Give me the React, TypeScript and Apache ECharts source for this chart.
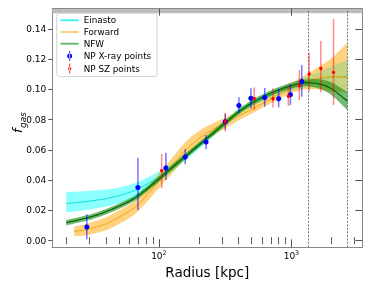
import React, { useEffect, useRef } from "react";
import * as echarts from "echarts";

// ---------- ticks ----------
const xMajorLog = [2, 3];
const xMinorR = [20, 30, 40, 50, 60, 70, 80, 90, 200, 300, 400, 500, 600, 700, 800, 900, 2000, 3000];
const yTickValues = [0, 0.02, 0.04, 0.06, 0.08, 0.1, 0.12, 0.14];

// ---------- Einasto model ----------
const einR = [20, 25, 32, 40, 50, 65, 80, 100, 130, 160, 200, 250, 320, 400, 500, 630, 800, 1000, 1250, 1600, 2000, 2650];
const einF = [0.0245, 0.0253, 0.0265, 0.0278, 0.0297, 0.033, 0.037, 0.0423, 0.0493, 0.0556, 0.0625, 0.0698, 0.0775, 0.085, 0.09, 0.0945, 0.0985, 0.1015, 0.1045, 0.1065, 0.1078, 0.1086];
const einLo = [0.0187, 0.0196, 0.021, 0.0226, 0.0247, 0.0282, 0.0328, 0.0388, 0.0465, 0.0534, 0.0607, 0.0682, 0.076, 0.0835, 0.0884, 0.0927, 0.0965, 0.099, 0.101, 0.1015, 0.1003, 0.0976];
const einHi = [0.0322, 0.0325, 0.0331, 0.0338, 0.0351, 0.0378, 0.0412, 0.0458, 0.0521, 0.0578, 0.0643, 0.0714, 0.079, 0.0865, 0.0916, 0.0963, 0.1005, 0.104, 0.108, 0.1115, 0.1153, 0.1196];

// ---------- NFW model ----------
const nfwR = [20, 25, 32, 40, 50, 65, 80, 100, 130, 160, 200, 250, 320, 400, 500, 630, 800, 1000, 1250, 1600, 2000, 2650];
const nfwF = [0.0119, 0.0138, 0.0162, 0.0192, 0.0228, 0.0278, 0.0337, 0.0408, 0.0494, 0.0561, 0.0632, 0.0703, 0.0782, 0.0852, 0.091, 0.0957, 0.0997, 0.1025, 0.1043, 0.1037, 0.1005, 0.0922];
const nfwLo = [0.0101, 0.012, 0.0144, 0.0174, 0.021, 0.026, 0.0319, 0.039, 0.0476, 0.0543, 0.0614, 0.0685, 0.0764, 0.0834, 0.0892, 0.0939, 0.0979, 0.1005, 0.1021, 0.1007, 0.0963, 0.0862];
const nfwHi = [0.0137, 0.0156, 0.018, 0.021, 0.0246, 0.0296, 0.0355, 0.0426, 0.0512, 0.0579, 0.065, 0.0721, 0.08, 0.087, 0.0928, 0.0975, 0.1015, 0.1045, 0.1065, 0.1067, 0.1047, 0.0982];

// ---------- Forward model ----------
const fwdR = [23, 27, 32, 40, 50, 65, 80, 100, 130, 160, 200, 250, 320, 400, 500, 630, 800, 1000, 1250, 1600, 2000, 2650];
const fwdF = [0.0062, 0.0069, 0.0085, 0.0112, 0.0155, 0.0215, 0.0295, 0.0395, 0.051, 0.06, 0.0675, 0.073, 0.078, 0.0825, 0.0868, 0.0915, 0.0965, 0.101, 0.1045, 0.1075, 0.1085, 0.1078];
const fwdLo = [0.0029, 0.0033, 0.0045, 0.0069, 0.011, 0.017, 0.0249, 0.0347, 0.0458, 0.0545, 0.0625, 0.0688, 0.0745, 0.0795, 0.084, 0.0887, 0.0935, 0.0975, 0.1, 0.1, 0.0985, 0.098];
const fwdHi = [0.0095, 0.0105, 0.0125, 0.0155, 0.02, 0.026, 0.0341, 0.0443, 0.0562, 0.0655, 0.0725, 0.0772, 0.0815, 0.0855, 0.0896, 0.0943, 0.0995, 0.1045, 0.109, 0.115, 0.1205, 0.131];

// ---------- NP X-ray points ----------
const xrayR = [28.6, 69.5, 113, 158, 227, 317, 402, 495, 629, 802, 983, 1197];
const xrayF = [0.009, 0.0351, 0.0481, 0.0553, 0.0653, 0.0787, 0.0893, 0.0941, 0.0946, 0.0939, 0.0965, 0.1052];
const xrayLo = [0.0009, 0.0203, 0.0401, 0.0505, 0.0604, 0.0736, 0.0842, 0.0875, 0.0886, 0.0882, 0.0897, 0.0952];
const xrayHi = [0.0174, 0.0547, 0.0582, 0.0606, 0.0699, 0.0838, 0.0948, 0.1008, 0.101, 0.1003, 0.1034, 0.1162];

// ---------- NP SZ points ----------
const szR = [105, 317, 525, 726, 949, 1148, 1361, 1668, 2080];
const szF = [0.0463, 0.0787, 0.0941, 0.0939, 0.0955, 0.1025, 0.1102, 0.1138, 0.1113];
const szLo = [0.0346, 0.0721, 0.0864, 0.088, 0.089, 0.093, 0.0985, 0.0979, 0.0897];
const szHi = [0.0573, 0.0847, 0.1014, 0.1008, 0.103, 0.1129, 0.1243, 0.132, 0.1466];

// ---------- vertical reference lines ----------
const vLineR = [1335, 2652];

const FONT = "DejaVu Sans";
const X_MIN = 1.196;
const X_MAX = 3.535;
const Y_MIN = -0.0044;
const Y_MAX = 0.1534;
const STRIP_LO = 0.1504;

const lg = (r: number) => Math.log10(r);

// Catmull-Rom smoothing in pixel space (rendering only)
function smoothPx(pts: number[][], steps = 8): number[][] {
  const out: number[][] = [];
  const n = pts.length;
  for (let i = 0; i < n - 1; i++) {
    const p0 = pts[Math.max(0, i - 1)];
    const p1 = pts[i];
    const p2 = pts[i + 1];
    const p3 = pts[Math.min(n - 1, i + 2)];
    for (let s = 0; s < steps; s++) {
      const t = s / steps;
      const t2 = t * t;
      const t3 = t2 * t;
      const f = (a: number, b: number, c: number, d: number) =>
        0.5 * (2 * b + (-a + c) * t + (2 * a - 5 * b + 4 * c - d) * t2 + (-a + 3 * b - 3 * c + d) * t3);
      out.push([f(p0[0], p1[0], p2[0], p3[0]), f(p0[1], p1[1], p2[1], p3[1])]);
    }
  }
  out.push(pts[n - 1]);
  return out;
}

function bandSeries(key: string, rs: number[], lo: number[], hi: number[], color: string, z: number) {
  const xs = rs.map(lg);
  return {
    name: key + "_band",
    type: "custom",
    silent: true,
    z,
    clip: true,
    encode: { x: 0, y: [1, 2] },
    data: xs.map((x, i) => [x, lo[i], hi[i]]),
    renderItem: (params: any, api: any) => {
      if (params.dataIndex !== 0) return null;
      const up = xs.map((x, i) => api.coord([x, hi[i]]));
      const dn = xs.map((x, i) => api.coord([x, lo[i]]));
      const pts = smoothPx(up).concat(smoothPx(dn).reverse());
      return {
        type: "polygon",
        shape: { points: pts },
        style: { fill: color, stroke: "none" },
      };
    },
  };
}

function lineSeries(name: string, rs: number[], vals: number[], color: string, width: number, z: number, extra: any = {}) {
  const xs = rs.map(lg);
  return {
    name,
    type: "custom",
    silent: true,
    z,
    clip: true,
    itemStyle: { color },
    encode: { x: 0, y: 1 },
    data: xs.map((x, i) => [x, vals[i]]),
    renderItem: (params: any, api: any) => {
      if (params.dataIndex !== 0) return null;
      const pts = smoothPx(xs.map((x, i) => api.coord([x, vals[i]])));
      return {
        type: "polyline",
        shape: { points: pts },
        style: { stroke: color, lineWidth: width, fill: "none" },
      };
    },
    ...extra,
  };
}

function errSeries(name: string, rs: number[], f: number[], lo: number[], hi: number[], color: string, barColor: string, radius: number, z: number) {
  return {
    name,
    type: "custom",
    z,
    itemStyle: { color },
    encode: { x: 0, y: [1, 2, 3] },
    data: rs.map((r, i) => [lg(r), f[i], lo[i], hi[i]]),
    renderItem: (params: any, api: any) => {
      const x = api.value(0);
      const p = api.coord([x, api.value(1)]);
      const pl = api.coord([x, api.value(2)]);
      const ph = api.coord([x, api.value(3)]);
      return {
        type: "group",
        children: [
          {
            type: "line",
            shape: { x1: pl[0], y1: pl[1], x2: ph[0], y2: ph[1] },
            style: { stroke: barColor, lineWidth: 1.5 },
          },
          {
            type: "circle",
            shape: { cx: p[0], cy: p[1], r: radius },
            style: { fill: color },
          },
        ],
      };
    },
  };
}

const lineIcon = "path://M0,0H18V1.8H0Z";
const blueIcon = "path://M2.6,0H3.4V10H2.6Z M0.5,5A2.5,2.5 0 1 0 5.5,5A2.5,2.5 0 1 0 0.5,5Z";
const redIcon = "path://M2.6,0H3.4V10H2.6Z M1.3,5A1.7,1.7 0 1 0 4.7,5A1.7,1.7 0 1 0 1.3,5Z";

export default function App() {
  const ref = useRef<HTMLDivElement>(null);
  useEffect(() => {
    if (!ref.current) return;
    const chart = echarts.init(ref.current, undefined, { renderer: "svg" });
    const spine = { color: "#888", width: 1 };
    const tickStyle = { color: "#555", width: 1 };
    const baseX = {
      type: "value",
      min: X_MIN,
      max: X_MAX,
      splitLine: { show: false },
    };
    const option: any = {
      animation: false,
      textStyle: { fontFamily: FONT },
      grid: { left: 52.3, right: 11.7, top: 8.7, bottom: 40.7, containLabel: false },
      legend: {
        left: 56.7,
        top: 13.3,
        orient: "vertical",
        itemWidth: 18,
        itemHeight: 10,
        itemGap: 2.7,
        padding: [2.5, 6, 3, 4],
        backgroundColor: "#fff",
        borderColor: "#d4d4d4",
        borderWidth: 1,
        borderRadius: 3,
        symbolKeepAspect: true,
        selectedMode: false,
        textStyle: { fontSize: 8.8, color: "#000", fontFamily: FONT },
        data: [
          { name: "Einasto", icon: lineIcon, itemStyle: { color: "#2ff5f5", borderWidth: 0 } },
          { name: "Forward", icon: lineIcon, itemStyle: { color: "#ffc870", borderWidth: 0 } },
          { name: "NFW", icon: lineIcon, itemStyle: { color: "#5cb35c", borderWidth: 0 } },
          { name: "NP X-ray points", icon: blueIcon, itemStyle: { color: "#0000ff", borderWidth: 0 } },
          { name: "NP SZ points", icon: redIcon, itemStyle: { color: "#ff0000", borderWidth: 0 } },
        ],
      },
      xAxis: [
        {
          ...baseX,
          position: "bottom",
          axisLine: { show: true, onZero: false, lineStyle: spine },
          axisTick: { show: true, inside: true, length: 8, customValues: xMajorLog, lineStyle: tickStyle },
          axisLabel: {
            show: true,
            customValues: xMajorLog,
            margin: 2,
            formatter: (v: number) => `{b|10}{s|${Math.round(v)}}`,
            rich: {
              b: { fontSize: 9, fontFamily: FONT, color: "#000", lineHeight: 11, verticalAlign: "bottom" },
              s: { fontSize: 6.3, fontFamily: FONT, color: "#000", lineHeight: 7, verticalAlign: "top" },
            },
          },
          name: "Radius [kpc]",
          nameLocation: "middle",
          nameGap: 12,
          nameTextStyle: { fontSize: 13.5, color: "#000", fontFamily: FONT, verticalAlign: "top" },
        },
        {
          ...baseX,
          position: "bottom",
          axisLine: { show: false },
          axisTick: { show: true, inside: true, length: 3.5, customValues: xMinorR.map(lg), lineStyle: tickStyle },
          axisLabel: { show: false },
        },
        {
          ...baseX,
          position: "top",
          z: 10,
          axisLine: { show: true, onZero: false, lineStyle: spine },
          axisTick: { show: true, inside: true, length: 7, customValues: xMajorLog, lineStyle: tickStyle },
          axisLabel: { show: false },
        },
        {
          ...baseX,
          position: "top",
          z: 10,
          axisLine: { show: false },
          axisTick: { show: true, inside: true, length: 3.5, customValues: xMinorR.map(lg), lineStyle: tickStyle },
          axisLabel: { show: false },
        },
      ],
      yAxis: [
        {
          type: "value",
          min: Y_MIN,
          max: Y_MAX,
          position: "left",
          splitLine: { show: false },
          axisLine: { show: true, onZero: false, lineStyle: spine },
          axisTick: { show: true, inside: false, length: 4, customValues: yTickValues, lineStyle: tickStyle },
          axisLabel: {
            show: true,
            customValues: yTickValues,
            margin: 6,
            fontSize: 9,
            color: "#000",
            fontFamily: FONT,
            formatter: (v: number) => v.toFixed(2),
          },
        },
        {
          type: "value",
          min: Y_MIN,
          max: Y_MAX,
          position: "right",
          splitLine: { show: false },
          axisLine: { show: true, onZero: false, lineStyle: spine },
          axisTick: { show: true, inside: true, length: 7, customValues: yTickValues, lineStyle: tickStyle },
          axisLabel: { show: false },
        },
      ],
      graphic: [
        {
          type: "group",
          x: 24,
          y: 123,
          rotation: Math.PI / 2,
          children: [
            {
              type: "text",
              x: -10,
              y: 0,
              style: { text: "f", font: `italic 13px ${FONT}`, fill: "#000", align: "left", verticalAlign: "bottom" },
            },
            {
              type: "text",
              x: -5,
              y: 3,
              style: { text: "gas", font: `italic 9px ${FONT}`, fill: "#000", align: "left", verticalAlign: "bottom" },
            },
          ],
        },
      ],
      series: [
        bandSeries("ein", einR, einLo, einHi, "rgba(0,255,255,0.45)", 1),
        lineSeries("Einasto", einR, einF, "#00dede", 1, 2),
        bandSeries("fwd", fwdR, fwdLo, fwdHi, "rgba(255,165,0,0.5)", 3),
        lineSeries("Forward", fwdR, fwdF, "#f5a000", 1, 4),
        bandSeries("nfw", nfwR, nfwLo, nfwHi, "rgba(20,140,20,0.6)", 5),
        lineSeries("NFW", nfwR, nfwF, "#006400", 1.2, 6, {
          markLine: {
            silent: true,
            symbol: ["none", "none"],
            label: { show: false },
            lineStyle: { type: [2, 1.5], color: "#666", width: 0.9 },
            data: vLineR.map((r) => ({ xAxis: lg(r) })),
          },
          markArea: {
            silent: true,
            itemStyle: { color: "#bdbdbd" },
            data: [[{ yAxis: STRIP_LO }, { yAxis: Y_MAX }]],
          },
        }),
        errSeries("NP X-ray points", xrayR, xrayF, xrayLo, xrayHi, "#0000ff", "rgba(0,0,255,0.55)", 2.6, 10),
        errSeries("NP SZ points", szR, szF, szLo, szHi, "#ff0000", "rgba(255,0,0,0.45)", 1.7, 11),
      ],
    };
    chart.setOption(option);
    return () => chart.dispose();
  }, []);
  return <div ref={ref} style={{ position: "fixed", left: 0, top: 0, width: 374, height: 288 }} />;
}
